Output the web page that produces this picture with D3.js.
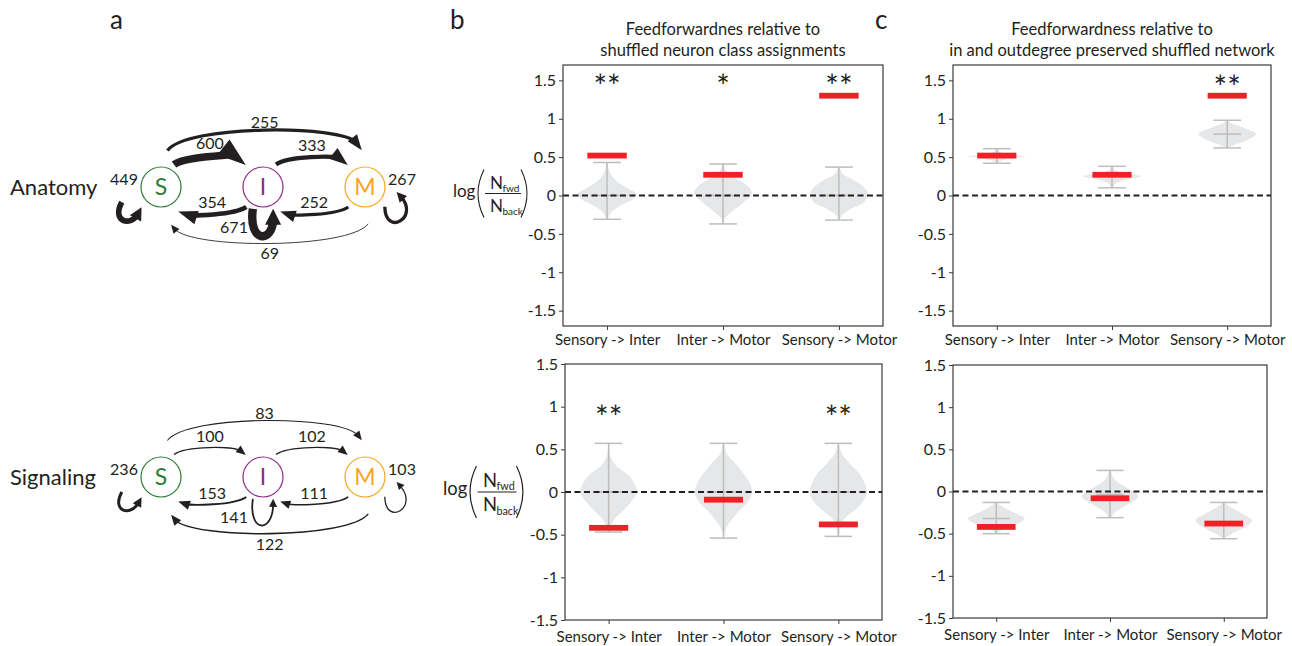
<!DOCTYPE html>
<html>
<head>
<meta charset="utf-8">
<script src="https://cdn.jsdelivr.net/npm/d3@7"></script>
<style>
  body { margin: 0; background: #fff; }
  svg text { font-family: Lato, "Open Sans", sans-serif; fill: #231f20; }
</style>
</head>
<body>
<svg width="1292" height="646"></svg>
<script>
let svg = d3.select("svg");

// ---- network diagrams (panel a)
const nodeNames = ["S", "I", "M"];
const nodeColors = ["#2b7c37", "#8f2a8e", "#f8a51c"];
const networkNames = ["Anatomy", "Signaling"];
// [source, target, number of connections]
const anatomyEdges = [
  ["S", "I", 600], ["I", "M", 333], ["S", "M", 255],
  ["I", "S", 354], ["M", "I", 252], ["M", "S", 69],
  ["S", "S", 449], ["I", "I", 671], ["M", "M", 267]
];
const signalingEdges = [
  ["S", "I", 100], ["I", "M", 102], ["S", "M", 83],
  ["I", "S", 153], ["M", "I", 111], ["M", "S", 122],
  ["S", "S", 236], ["I", "I", 141], ["M", "M", 103]
];

// ---- violins (panels b, c)
const pairNames = ["Sensory -> Inter", "Inter -> Motor", "Sensory -> Motor"];
const yTicks = [-1.5, -1, -0.5, 0, 0.5, 1, 1.5];

// shuffled distributions as [log ratio, relative density], top to bottom
const anatClassViolins = [
  [[0.43, 0.02], [0.3, 0.1], [0.2, 0.3], [0.1, 0.68], [0.02, 1], [-0.05, 0.88], [-0.13, 0.48], [-0.22, 0.14], [-0.31, 0.02]],
  [[0.41, 0.02], [0.3, 0.15], [0.2, 0.55], [0.15, 0.78], [0.03, 1], [-0.1, 0.67], [-0.22, 0.27], [-0.3, 0.06], [-0.37, 0.02]],
  [[0.37, 0.02], [0.28, 0.14], [0.2, 0.52], [0.11, 0.86], [0.02, 1], [-0.09, 0.86], [-0.17, 0.43], [-0.26, 0.1], [-0.32, 0.02]]
];
const anatClassMedians = [0, 0, 0];
const anatClassObserved = [0.52, 0.27, 1.30];
const anatClassStars = ["**", "*", "**"];

const anatDegreeViolins = [
  [[0.61, 0.02], [0.56, 0.15], [0.53, 0.55], [0.51, 1], [0.49, 0.6], [0.46, 0.2], [0.42, 0.02]],
  [[0.38, 0.02], [0.33, 0.12], [0.29, 0.45], [0.25, 1], [0.21, 0.5], [0.16, 0.15], [0.10, 0.02]],
  [[0.98, 0.02], [0.93, 0.2], [0.89, 0.52], [0.8, 1], [0.72, 0.69], [0.66, 0.26], [0.62, 0.02]]
];
const anatDegreeMedians = [0.51, 0.25, 0.80];
const anatDegreeObserved = [0.52, 0.27, 1.30];
const anatDegreeStars = ["", "", "**"];

const sigClassViolins = [
  [[0.57, 0.02], [0.41, 0.07], [0.3, 0.29], [0.18, 0.74], [0.06, 0.95], [0, 1], [-0.09, 0.84], [-0.21, 0.53], [-0.33, 0.18], [-0.41, 0.07], [-0.47, 0.02]],
  [[0.57, 0.02], [0.45, 0.11], [0.34, 0.4], [0.22, 0.69], [0.1, 0.92], [0, 1], [-0.11, 0.86], [-0.23, 0.52], [-0.35, 0.23], [-0.45, 0.06], [-0.54, 0.02]],
  [[0.57, 0.02], [0.45, 0.12], [0.34, 0.38], [0.22, 0.72], [0.1, 0.92], [0, 1], [-0.11, 0.86], [-0.21, 0.57], [-0.33, 0.17], [-0.45, 0.06], [-0.52, 0.02]]
];
const sigClassMedians = [0, 0, 0];
const sigClassObserved = [-0.42, -0.09, -0.38];
const sigClassStars = ["**", "", "**"];

const sigDegreeViolins = [
  [[-0.13, 0.02], [-0.17, 0.17], [-0.21, 0.38], [-0.27, 0.75], [-0.32, 1], [-0.39, 0.7], [-0.45, 0.23], [-0.50, 0.02]],
  [[0.25, 0.02], [0.14, 0.17], [0.06, 0.52], [0, 0.8], [-0.055, 1], [-0.15, 0.63], [-0.23, 0.23], [-0.31, 0.02]],
  [[-0.13, 0.02], [-0.19, 0.26], [-0.27, 0.69], [-0.34, 1], [-0.4, 0.85], [-0.45, 0.57], [-0.51, 0.23], [-0.56, 0.02]]
];
const sigDegreeMedians = [-0.32, -0.035, -0.36];
const sigDegreeObserved = [-0.42, -0.08, -0.38];
const sigDegreeStars = ["", "", ""];

// ---------------------------------------------------------------
let ink = "#231f20";

let polar = (c, deg, dist) => [c[0] + dist * Math.cos(deg * Math.PI / 180),
                               c[1] + dist * Math.sin(deg * Math.PI / 180)];
let unit = (a, b) => {
  let dx = b[0] - a[0], dy = b[1] - a[1], l = Math.hypot(dx, dy);
  return [dx / l, dy / l];
};
let arrowHead = (tip, dir, len, half) => {
  let bx = tip[0] - dir[0] * len, by = tip[1] - dir[1] * len;
  return [tip, [bx - dir[1] * half, by + dir[0] * half], [bx + dir[1] * half, by - dir[0] * half]];
};

let nodeX = d3.scalePoint().domain(nodeNames).range([161, 365]);
let rowY = d3.scalePoint().domain(networkNames).range([187, 477]);
let edgeWidth = d3.scaleLinear().domain([0, 671]).range([0, 8.4]);
let nodeR = 20;

// arcs between nodes: angle/offset at both ends, height of the bend,
// how far the control points sit in from the ends, label side
let routes = {
  upper:     { a0: -60, d0: 6,  a1: -128, d1: 8,  bend: -29, k: 0.16, side: -1, pad: 11 },
  lower:     { a0: 130, d0: 6,  a1: 55,   d1: 10, bend: 27,  k: 0.18, side: -1, pad: 10 },
  upperLong: { a0: -80, d0: 17, a1: -95,  d1: 17, bend: -56, k: 0.1,  side: -1, pad: 7 },
  lowerLong: { a0: 85,  d0: 17, a1: 75,   d1: 19, bend: 56,  k: 0.1,  side: 1,  pad: 10 }
};
// self loops as [angle, distance] for the bezier points
let loops = {
  S: { p0: [159, 42], c1: [145, 61], c2: [127, 50], p3: [134, 28], label: [-37, -8] },
  I: { p0: [115, 24], c1: [105, 58], c2: [80, 58],  p3: [65, 24],  label: [-29, 40] },
  M: { p0: [45, 28],  c1: [68, 54],  c2: [29, 63],  p3: [9, 32],   label: [37, -8] }
};

let drawNetwork = (name, edges) => {
  let cy = rowY(name);
  let center = n => [nodeX(n), cy];
  let g = svg.append("g").attr("class", "network");

  g.append("text")
    .attr("x", 10).attr("y", cy).attr("dy", "0.36em")
    .style("font-size", "22px")
    .text(name);

  for (let [s, t, count] of edges) {
    let w = edgeWidth(count);
    let p0, c1, c2, tip, labelPos, len, half;
    if (s === t) {
      let lp = loops[s], c = center(s);
      p0 = polar(c, ...lp.p0);
      c1 = polar(c, ...lp.c1);
      c2 = polar(c, ...lp.c2);
      tip = polar(c, ...lp.p3);
      len = 6 + 1.2 * w; half = 3 + 0.6 * w;
      labelPos = [c[0] + lp.label[0], c[1] + lp.label[1]];
    } else {
      let si = nodeNames.indexOf(s), ti = nodeNames.indexOf(t);
      let route = routes[(ti > si ? "upper" : "lower") + (Math.abs(ti - si) > 1 ? "Long" : "")];
      p0 = polar(center(s), route.a0, nodeR + route.d0);
      tip = polar(center(t), route.a1, nodeR + route.d1);
      let peak = cy + route.bend;
      let yc = (8 * peak - p0[1] - tip[1]) / 6;
      let dx = (tip[0] - p0[0]) * route.k;
      c1 = [p0[0] + dx, yc];
      c2 = [tip[0] - dx, yc];
      len = 6 + 3 * w; half = 3 + 0.9 * w;
      labelPos = [(p0[0] + tip[0]) / 2, peak + route.side * (w / 2 + route.pad)];
    }
    let dir = unit(c2, tip);
    let end = [tip[0] - dir[0] * len * 0.6, tip[1] - dir[1] * len * 0.6];
    let path = d3.path();
    path.moveTo(...p0);
    path.bezierCurveTo(...c1, ...c2, ...end);

    g.append("path")
      .attr("d", path.toString())
      .attr("fill", "none")
      .attr("stroke", ink)
      .attr("stroke-width", w);
    g.append("polygon")
      .attr("points", arrowHead(tip, dir, len, half).map(p => p.join(",")).join(" "))
      .attr("fill", ink);
    g.append("text")
      .attr("x", labelPos[0]).attr("y", labelPos[1]).attr("dy", "0.36em")
      .attr("text-anchor", "middle")
      .style("font-size", "16px")
      .text(count);
  }

  let node = g.selectAll("g.node")
    .data(nodeNames)
    .enter().append("g")
      .attr("class", "node")
      .attr("transform", d => `translate(${nodeX(d)},${cy})`);
  node.append("circle")
    .attr("r", nodeR)
    .attr("fill", "#fff")
    .attr("stroke", (d, i) => nodeColors[i])
    .attr("stroke-width", 1.2);
  node.append("text")
    .attr("text-anchor", "middle")
    .attr("dy", "0.36em")
    .style("font-size", "23px")
    .style("fill", (d, i) => nodeColors[i])
    .text(d => d);
};

drawNetwork("Anatomy", anatomyEdges);
drawNetwork("Signaling", signalingEdges);

// ---- log(Nfwd/Nback) axis label
let fractionLabel = (x0, yl, s) => {
  let g = svg.append("g").attr("transform", `translate(${x0},${yl}) scale(${s})`);
  g.append("text").attr("x", 0).attr("y", 3).style("font-size", "17px").text("log");
  g.append("path").attr("d", "M31,-24 Q19,0 31,24").attr("fill", "none").attr("stroke", ink).attr("stroke-width", 1.1);
  g.append("path").attr("d", "M68,-24 Q80,0 68,24").attr("fill", "none").attr("stroke", ink).attr("stroke-width", 1.1);
  g.append("line").attr("x1", 32).attr("x2", 68).attr("y1", 0).attr("y2", 0).attr("stroke", ink).attr("stroke-width", 1);
  g.append("text").attr("x", 37).attr("y", -5).style("font-size", "17px").text("N");
  g.append("text").attr("x", 49.5).attr("y", -2).style("font-size", "10px").text("fwd");
  g.append("text").attr("x", 37).attr("y", 18).style("font-size", "17px").text("N");
  g.append("text").attr("x", 49.5).attr("y", 21).style("font-size", "10px").text("back");
};

// ---- violin panels
let panels = [
  { violins: anatClassViolins, medians: anatClassMedians, observed: anatClassObserved, stars: anatClassStars,
    starAt: 1.49, x: [563, 883], y: [65, 326], domain: [-1.7, 1.7], pad: 4,
    title: ["Feedforwardnes relative to", "shuffled neuron class assignments"], label: [453, 193.5, 1] },
  { violins: anatDegreeViolins, medians: anatDegreeMedians, observed: anatDegreeObserved, stars: anatDegreeStars,
    starAt: 1.47, x: [953, 1271], y: [65, 326], domain: [-1.7, 1.7], pad: 4,
    title: ["Feedforwardness relative to", "in and outdegree preserved shuffled network"] },
  { violins: sigClassViolins, medians: sigClassMedians, observed: sigClassObserved, stars: sigClassStars,
    starAt: 0.93, x: [565, 882], y: [364, 620], domain: [-1.5, 1.5], pad: 7, label: [443, 492, 1.08] },
  { violins: sigDegreeViolins, medians: sigDegreeMedians, observed: sigDegreeObserved, stars: sigDegreeStars,
    starAt: 0.93, x: [953, 1267], y: [365, 618], domain: [-1.5, 1.5], pad: 7 }
];

let drawPanel = (p) => {
  let g = svg.append("g").attr("class", "panel");
  let x = d3.scalePoint().domain(pairNames).range(p.x).padding(0.38);
  let y = d3.scaleLinear().domain(p.domain).range([p.y[1], p.y[0]]);
  let step = x.step();
  let half = step * 0.25, cap = step * 0.12, bar = step * 0.17;

  pairNames.forEach((name, i) => {
    let cx = x(name);
    let profile = p.violins[i];
    let ext = d3.extent(profile, d => d[0]);
    let area = d3.area()
      .curve(d3.curveCatmullRom)
      .y(d => y(d[0]))
      .x0(d => cx - d[1] * half)
      .x1(d => cx + d[1] * half);
    g.append("path").attr("d", area(profile)).attr("fill", "#e6e7e8");

    let grey = g.append("g").attr("stroke", "#bdbdbd").attr("stroke-width", 1.5);
    grey.append("line").attr("x1", cx).attr("x2", cx).attr("y1", y(ext[0])).attr("y2", y(ext[1]));
    for (let v of ext) {
      grey.append("line").attr("x1", cx - cap).attr("x2", cx + cap).attr("y1", y(v)).attr("y2", y(v));
    }
    grey.append("line").attr("x1", cx - cap).attr("x2", cx + cap)
      .attr("y1", y(p.medians[i])).attr("y2", y(p.medians[i]));
  });

  g.append("line")
    .attr("x1", p.x[0]).attr("x2", p.x[1])
    .attr("y1", y(0)).attr("y2", y(0))
    .attr("stroke", ink).attr("stroke-width", 1.8)
    .attr("stroke-dasharray", "6,3.5");

  g.selectAll("rect.obs")
    .data(p.observed)
    .enter().append("rect")
      .attr("class", "obs")
      .attr("x", (d, i) => x(pairNames[i]) - bar)
      .attr("width", bar * 2)
      .attr("y", d => y(d) - 2.9)
      .attr("height", 5.8)
      .attr("fill", "#ed2127");

  g.selectAll("text.star")
    .data(p.stars)
    .enter().append("text")
      .attr("class", "star")
      .attr("x", (d, i) => x(pairNames[i]))
      .attr("y", y(p.starAt))
      .attr("dy", "0.52em")
      .attr("text-anchor", "middle")
      .style("font-size", "32px")
      .text(d => d);

  g.append("rect")
    .attr("x", p.x[0]).attr("y", p.y[0])
    .attr("width", p.x[1] - p.x[0]).attr("height", p.y[1] - p.y[0])
    .attr("fill", "none").attr("stroke", "#3a3a3a").attr("stroke-width", 1.2);

  let yAxis = g.append("g")
    .attr("transform", `translate(${p.x[0]},0)`)
    .call(d3.axisLeft(y).tickValues(yTicks).tickSize(4).tickPadding(3).tickFormat(d => d));
  let xAxis = g.append("g")
    .attr("transform", `translate(0,${p.y[1]})`)
    .call(d3.axisBottom(x).tickSize(4).tickPadding(p.pad));
  for (let a of [yAxis, xAxis]) {
    a.attr("font-family", null).attr("font-size", null).attr("color", "#3a3a3a");
    a.select(".domain").remove();
    a.selectAll("text").style("font-size", "15px").style("fill", ink);
  }
  yAxis.selectAll("text").style("font-size", "16px");

  if (p.title) {
    g.selectAll("text.title")
      .data(p.title)
      .enter().append("text")
        .attr("class", "title")
        .attr("x", (p.x[0] + p.x[1]) / 2)
        .attr("y", (d, i) => 35 + i * 21)
        .attr("text-anchor", "middle")
        .style("font-size", "16.5px")
        .text(d => d);
  }
  if (p.label) fractionLabel(...p.label);
};

panels.forEach(drawPanel);

// panel letters
svg.selectAll("text.letter")
  .data([["a", 110], ["b", 450], ["c", 875]])
  .enter().append("text")
    .attr("class", "letter")
    .attr("x", d => d[1])
    .attr("y", 29)
    .style("font-size", "26px")
    .text(d => d[0]);
</script>
</body>
</html>
